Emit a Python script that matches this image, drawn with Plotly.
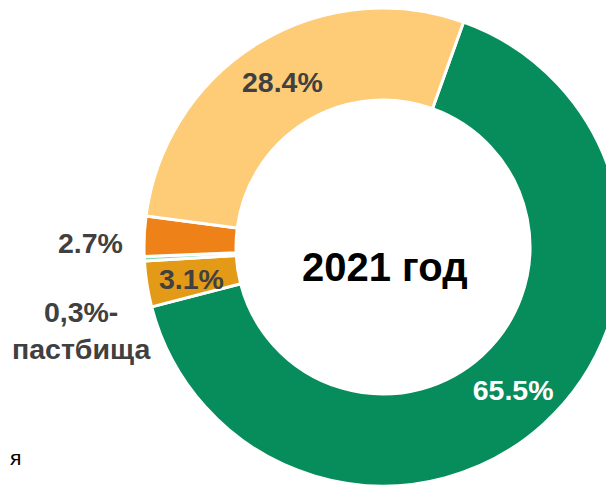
import plotly.graph_objects as go

# ---- data ----
labels = ["Пашня", "Многолетние насаждения", "Пастбища", "Сенокосы", "Залежь"]
values = [65.5, 3.1, 0.3, 2.7, 28.4]
value_text = ["65.5%", "3.1%", "0,3%-<br>пастбища", "2.7%", "28.4%"]
colors = ["#078C5B", "#E29A17", "#7FDDB5", "#EF8119", "#FECB77"]
text_colors = ["#FFFFFF", "#404040", "#404040", "#404040", "#404040"]
text_pos = ["inside", "none", "none", "none", "inside"]
center_title = "2021 год"
legend_tail = "я"

# ---- canvas geometry (px, in screen coords; page body adds an 8px offset) ----
OX, OY = 8, 8
W, H = 630, 495
cx, cy, R = 383, 247, 239


def px(x):
    return min(1.0, max(0.0, (x - OX) / W))


def py(y):
    return min(1.0, max(0.0, 1 - (y - OY) / H))


fig = go.Figure(
    go.Pie(
        labels=labels,
        values=values,
        text=value_text,
        textinfo="text",
        texttemplate="<b>%{text}</b>",
        textposition=text_pos,
        insidetextorientation="horizontal",
        textfont=dict(family="Liberation Sans, Arial", size=28.5, color=text_colors),
        sort=False,
        direction="clockwise",
        rotation=19.7,
        hole=0.615,
        marker=dict(colors=colors, line=dict(color="white", width=3)),
        domain=dict(x=[px(cx - R), px(cx + R)], y=[py(cy + R), py(cy - R)]),
        showlegend=False,
        hoverinfo="label+percent",
    )
)

ann_font = dict(family="Liberation Sans, Arial", size=28.5, color="#404040")
fig.add_annotation(
    x=px(125), y=py(243), xref="paper", yref="paper",
    text="<b>" + value_text[3] + "</b>", showarrow=False,
    xanchor="right", yanchor="middle", font=ann_font,
)
fig.add_annotation(
    x=px(191), y=py(279), xref="paper", yref="paper",
    text="<b>" + value_text[1] + "</b>", showarrow=False,
    xanchor="center", yanchor="middle", font=ann_font,
)
fig.add_annotation(
    x=px(81), y=py(330), xref="paper", yref="paper",
    text="<b>" + value_text[2] + "</b>", showarrow=False,
    xanchor="center", yanchor="middle", align="center", font=ann_font,
)
fig.add_annotation(
    x=px(385), y=py(267), xref="paper", yref="paper",
    text="<b>" + center_title + "</b>", showarrow=False,
    xanchor="center", yanchor="middle",
    font=dict(family="Liberation Sans, Arial", size=40, color="#000000"),
)
fig.add_annotation(
    x=px(8), y=py(457), xref="paper", yref="paper",
    text=legend_tail, showarrow=False,
    xanchor="left", yanchor="middle",
    font=dict(family="Liberation Sans, Arial", size=21, color="#000000"),
)

fig.update_layout(
    width=W, height=H, autosize=False,
    margin=dict(l=0, r=0, t=0, b=0),
    paper_bgcolor="white", plot_bgcolor="white",
)
fig.write_html("out.html")
